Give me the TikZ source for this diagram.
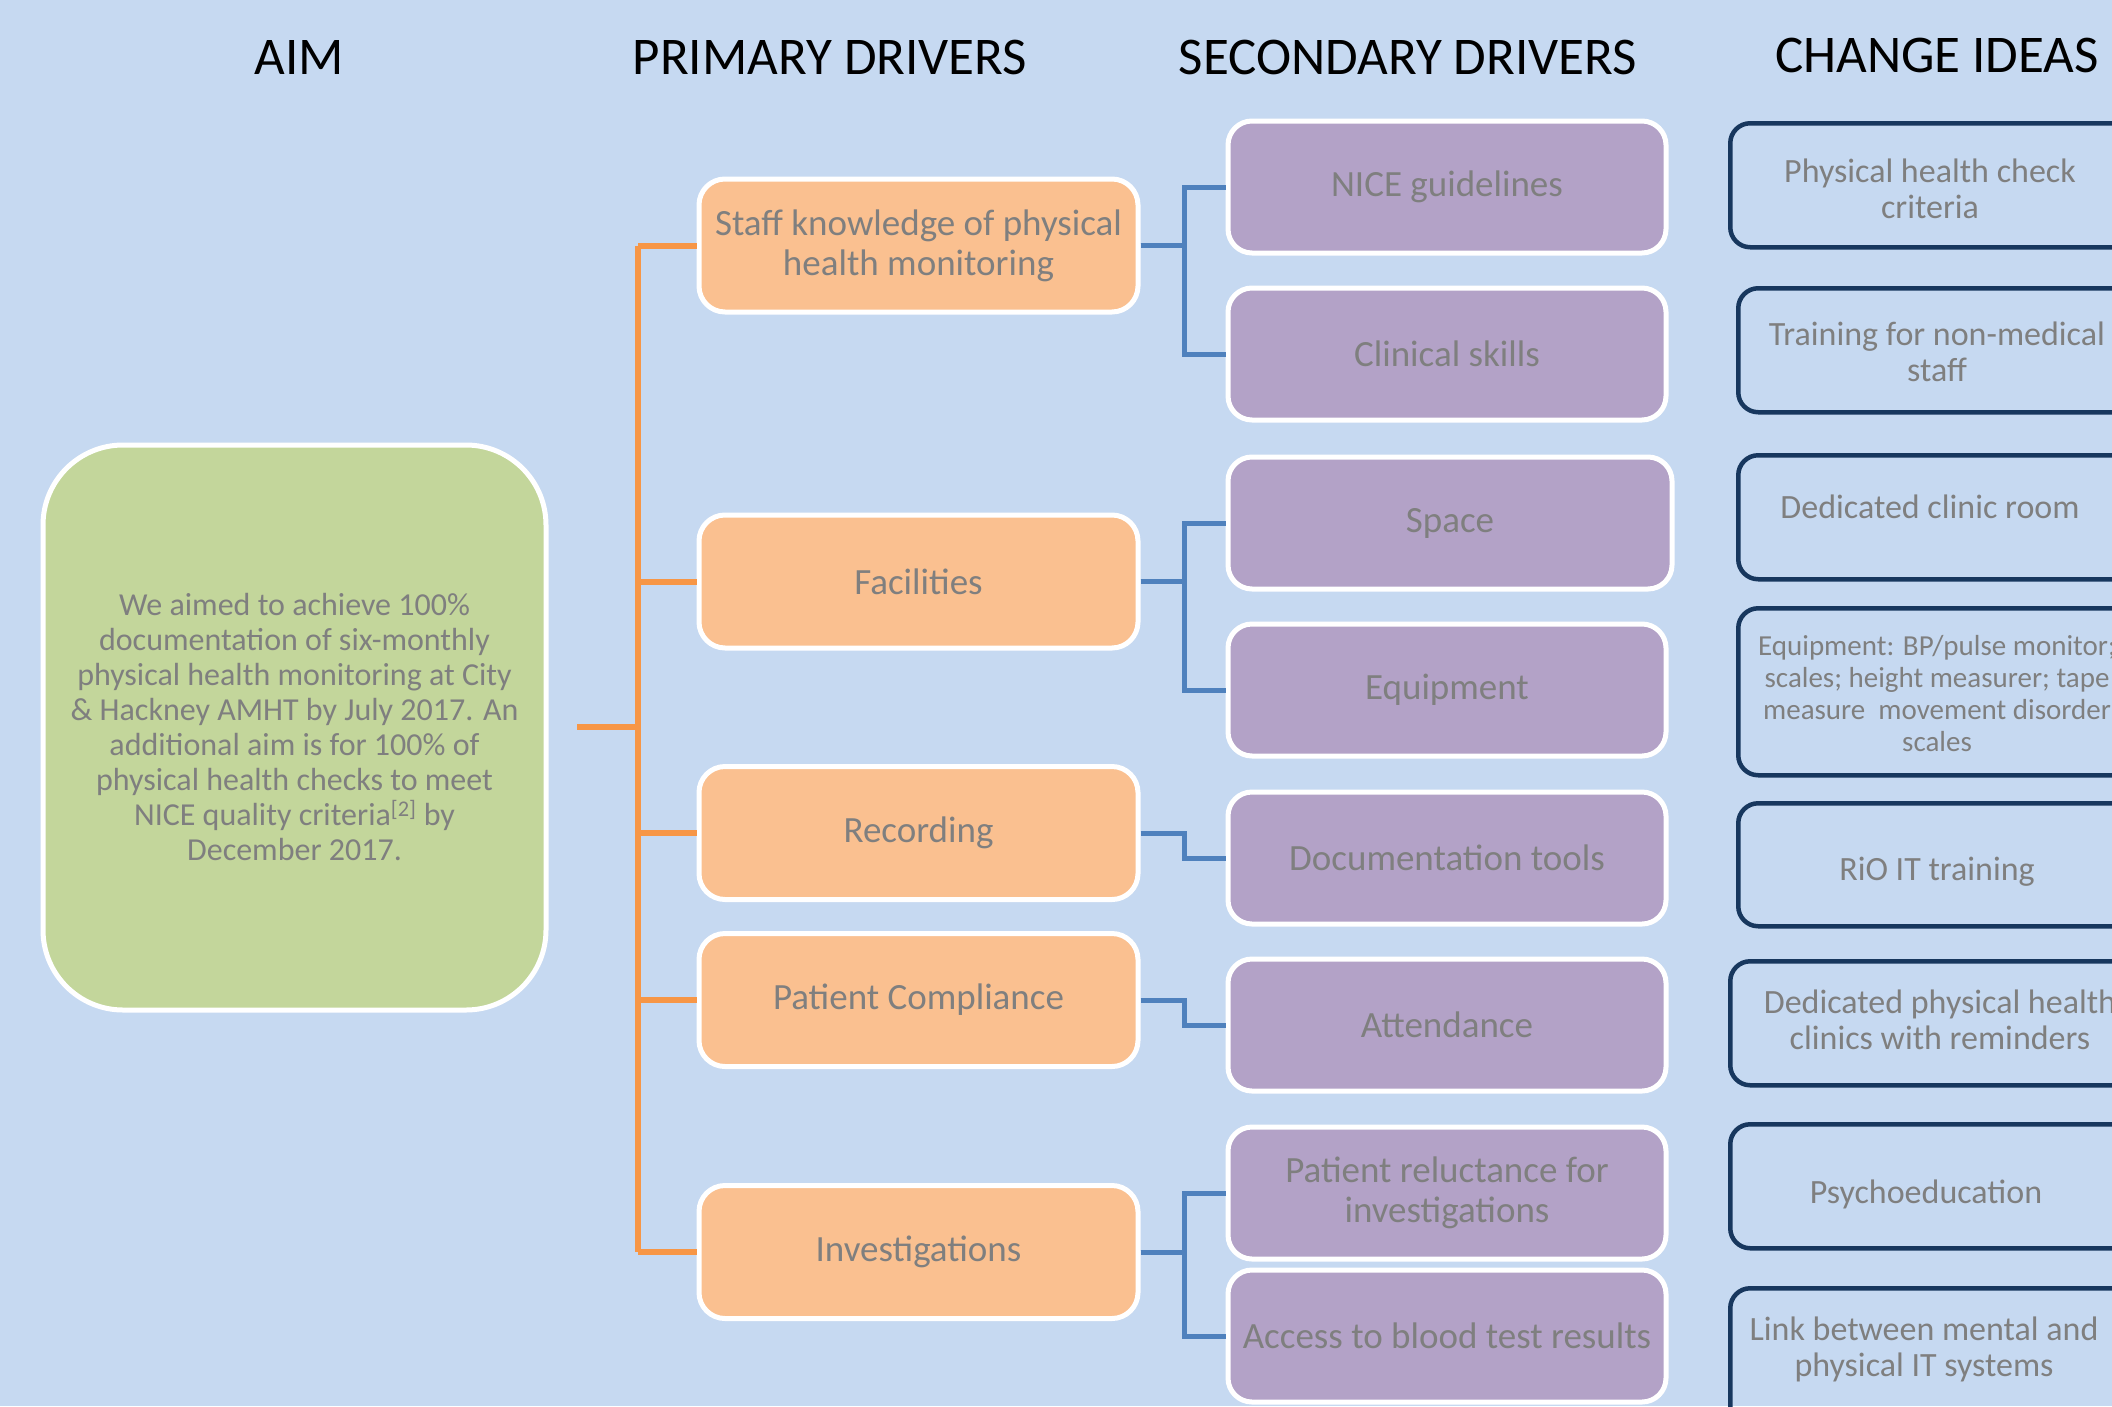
\documentclass[tikz,border=0pt]{standalone}
\usepackage{fontspec}
\setmainfont{Carlito}
\definecolor{bgblue}{HTML}{C6D9F1}
\definecolor{aimgreen}{HTML}{C3D69B}
\definecolor{primorange}{HTML}{FAC090}
\definecolor{secpurple}{HTML}{B3A2C7}
\definecolor{lineorange}{HTML}{F79646}
\definecolor{lineblue}{HTML}{4F81BD}
\definecolor{navy}{HTML}{17375E}
\definecolor{txtgray}{HTML}{7F7F7F}
\begin{document}
\begin{tikzpicture}[x=1pt,y=-1pt,
  header/.style={font=\fontsize{53}{60}\selectfont, text=black},
  aimbox/.style={draw=white, line width=5pt, fill=aimgreen, rounded corners=80pt,
    minimum width=503pt, minimum height=565pt, align=center, text=txtgray,
    font=\fontsize{32}{35}\selectfont},
  primbox/.style={draw=white, line width=5pt, fill=primorange, rounded corners=26pt,
    minimum width=439pt, minimum height=133pt, align=center, text=txtgray,
    font=\fontsize{37}{40}\selectfont},
  secbox/.style={draw=white, line width=5pt, fill=secpurple, rounded corners=24pt,
    minimum width=438pt, minimum height=132pt, align=center, text=txtgray,
    font=\fontsize{37}{40}\selectfont},
  ideabox/.style={draw=navy, line width=4.5pt, rounded corners=20pt,
    minimum width=520pt, anchor=north west},
  ideatext/.style={align=center, text=txtgray, font=\fontsize{34}{36}\selectfont},
  oline/.style={draw=lineorange, line width=6pt},
  bline/.style={draw=lineblue, line width=5pt}
]
\useasboundingbox (0,0) rectangle (2112,1406);
\clip (0,0) rectangle (2112,1406);
\fill[bgblue] (0,0) rectangle (2112,1406);

% headers
\node[header] (hAim) at (299,57) {AIM};
\node[header] (hPrim) at (830,57) {PRIMARY DRIVERS};
\node[header] (hSec) at (1408,57) {SECONDARY DRIVERS};
\node[header] (hIdea) at (1937,55) {CHANGE IDEAS};

% aim
\node[aimbox] (aim) at (294.5,727.5) {We aimed to achieve 100\%\\documentation of six-monthly\\physical health monitoring at City\\\& Hackney AMHT by July 2017. An\\additional aim is for 100\% of\\physical health checks to meet\\NICE quality criteria\textsuperscript{[2]} by\\December 2017.};

% primary drivers
\node[primbox] (p1) at (918.5,245.5) {Staff knowledge of physical\\health monitoring};
\node[primbox] (p2) at (918.5,581.5) {Facilities};
\node[primbox] (p3) at (918.5,833) {Recording};
\node[primbox] (p4) at (918.5,1000) {Patient Compliance};
\node[primbox] (p5) at (918.5,1252) {Investigations};

% secondary drivers
\node[secbox] (s1) at (1447,187) {NICE guidelines};
\node[secbox] (s2) at (1447,354) {Clinical skills};
\node[secbox, minimum width=444pt] (s3) at (1450,523) {Space};
\node[secbox] (s4) at (1447,690) {Equipment};
\node[secbox] (s5) at (1447,858) {Documentation tools};
\node[secbox] (s6) at (1447,1025) {Attendance};
\node[secbox] (s7) at (1447,1193) {Patient reluctance for\\investigations};
\node[secbox] (s8) at (1447,1336) {Access to blood test results};

% change ideas
\node[ideabox, minimum height=124pt] (c1) at (1728,121) {};
\node[ideabox, minimum height=124pt] (c2) at (1736,286) {};
\node[ideabox, minimum height=124pt] (c3) at (1736,453) {};
\node[ideabox, minimum height=167pt] (c4) at (1736,606) {};
\node[ideabox, minimum height=123pt] (c5) at (1736,801) {};
\node[ideabox, minimum height=124pt] (c6) at (1728,959) {};
\node[ideabox, minimum height=124pt] (c7) at (1728,1122) {};
\node[ideabox, minimum height=140pt] (c8) at (1728,1286) {};

\node[ideatext] (t1) at (1930,189) {Physical health check\\criteria};
\node[ideatext] (t2) at (1937,352) {Training for non-medical\\staff};
\node[ideatext] (t3) at (1930,507) {Dedicated clinic room};
\node[ideatext, font=\fontsize{29}{32}\selectfont] (t4) at (1937,694) {Equipment: BP/pulse monitor;\\scales; height measurer; tape\\measure\ \ movement disorder\\scales};
\node[ideatext] (t5) at (1937,872) {RiO IT training};
\node[ideatext] (t6) at (1940,1020) {Dedicated physical health\\clinics with reminders};
\node[ideatext] (t7) at (1926,1194) {Psychoeducation};
\node[ideatext] (t8) at (1924,1349) {Link between mental and\\physical IT systems};

% orange connectors
\coordinate (aimout) at (577,727);
\coordinate (tj) at (638,727);
\draw[oline] (aimout) -- (tj);
\draw[oline] (tj |- p1.west) -- (tj |- p5.west);
\foreach \p in {p1,p2,p3,p4,p5}{
  \draw[oline] (tj |- \p.west) -- (\p.west);
}

% blue connectors
\draw[bline] (p1.east) -- ++(44,0) |- (s1.west);
\draw[bline] (p1.east) -- ++(44,0) |- (s2.west);
\draw[bline] (p2.east) -- ++(44,0) |- (s3.west);
\draw[bline] (p2.east) -- ++(44,0) |- (s4.west);
\draw[bline] (p3.east) -- ++(44,0) |- (s5.west);
\draw[bline] (p4.east) -- ++(44,0) |- (s6.west);
\draw[bline] (p5.east) -- ++(44,0) |- (s7.west);
\draw[bline] (p5.east) -- ++(44,0) |- (s8.west);
\end{tikzpicture}
\end{document}
